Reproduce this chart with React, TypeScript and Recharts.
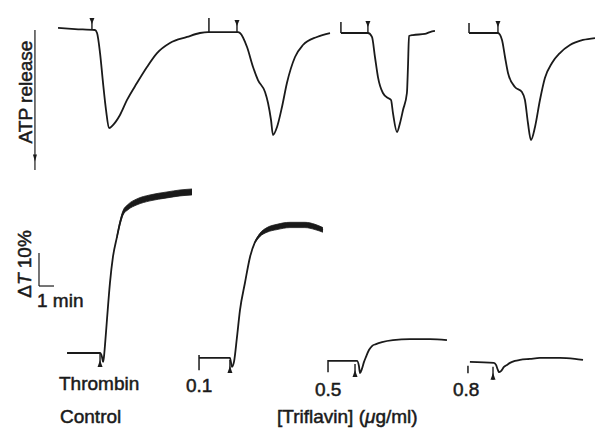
import { ComposedChart, Line, Area, Scatter, XAxis, YAxis, ReferenceLine, ReferenceDot } from 'recharts';

// chart-paper time, minutes (1 min = the scale bar)
const T_DOMAIN: [number, number] = [0, 39.67];

// ATP release (arbitrary units, deflection downwards = release)
const atpControlAnd01: [number, number][] = [
  [3.87, -1.7], [5.0, -0.8], [6.33, 0], [6.47, 2.5], [6.67, 19.2], [6.87, 44.2], [7.07, 66.7],
  [7.27, 81.7], [7.53, 79.2], [8.0, 70.8], [8.47, 58.3], [9.13, 44.2], [9.8, 30.8], [10.47, 19.2],
  [11.33, 10.8], [12.47, 5.8], [13.33, 2.5], [13.87, 1.7], [15.87, 1.7], [16.0, 2.5], [16.47, 14.2],
  [16.87, 30.8], [17.2, 41.7], [17.67, 51.7], [17.87, 60.8], [18.07, 75.0], [18.2, 87.5],
  [18.47, 80.8], [18.8, 64.2], [19.13, 44.2], [19.67, 22.5], [20.2, 12.5], [21.13, 5.8], [22.0, 2.5],
];
const atp05: [number, number][] = [
  [22.73, 2.5], [24.53, 2.5], [24.8, 5.8], [25.0, 22.5], [25.2, 39.2], [25.53, 52.5], [25.87, 56.7],
  [26.07, 58.3], [26.2, 69.2], [26.47, 85.0], [26.67, 77.5], [26.87, 66.7], [27.13, 52.5],
  [27.2, 30.8], [27.27, 5.0], [27.53, 4.2], [28.33, 3.3], [28.67, 1.7], [29.0, 0.8],
];
const atp08: [number, number][] = [
  [31.27, 2.5], [33.2, 2.5], [33.47, 8.3], [33.67, 22.5], [33.87, 35.8], [34.33, 47.5], [34.8, 51.7],
  [35.0, 58.3], [35.2, 77.5], [35.4, 91.7], [35.67, 80.8], [36.0, 58.3], [36.33, 40.0], [36.8, 27.5],
  [37.33, 19.2], [38.0, 12.5], [38.87, 8.3], [39.67, 6.7],
];
const atpThrombinAdds: [number, number][] = [[6.13, 0], [15.8, 1.7], [24.53, 2.5], [33.2, 2.5]];
const atpStartTicks: [number, number, number][] = [[13.93, 1.7, -10], [22.73, 2.5, -6.7], [31.27, 2.5, -5.8]];
const atpAxis: [number, number, number] = [2.33, 0, 116.7];

// aggregation, light transmission change ΔT (%)
const aggControl: [number, number][] = [
  [4.47, 0], [6.67, 0], [6.8, -1.2], [6.87, -2.7], [6.93, -1.2], [7.0, 2.4], [7.13, 10.0],
  [7.33, 21.2], [7.53, 29.1], [7.8, 35.2], [8.0, 39.4], [8.2, 42.4], [8.53, 44.2], [9.13, 45.8],
  [10.0, 47.0], [11.13, 47.9], [12.0, 48.5], [12.8, 48.8],
];
const aggControlNoise: [number, number, number][] = [
  [7.8, 34.9, 35.5], [8.0, 38.9, 39.9], [8.2, 41.8, 43.1], [8.53, 43.4, 45.0], [9.13, 44.9, 46.7],
  [10.0, 46.1, 47.9], [11.13, 47.0, 48.8], [12.0, 47.6, 49.4], [12.8, 47.9, 49.7],
];
const agg01: [number, number][] = [
  [13.27, -1.5], [15.33, -1.5], [15.47, -4.2], [15.6, -2.7], [15.8, 4.8], [16.0, 13.0], [16.33, 21.2],
  [16.67, 29.1], [17.0, 33.6], [17.33, 35.8], [17.8, 37.3], [18.47, 38.2], [19.33, 38.8],
  [20.33, 38.8], [21.0, 38.2], [21.53, 37.3],
];
const agg01Noise: [number, number, number][] = [
  [17.0, 33.4, 33.8], [17.33, 35.3, 36.3], [17.8, 36.6, 38.0], [18.47, 37.4, 39.0],
  [19.33, 38.0, 39.6], [20.33, 38.0, 39.6], [21.0, 37.4, 39.0], [21.53, 36.6, 38.0],
];
const agg05: [number, number][] = [
  [21.87, -2.4], [23.8, -2.4], [23.93, -3.9], [24.0, -6.1], [24.13, -4.8], [24.27, -2.7], [24.4, -1.2],
  [24.6, 0.9], [24.8, 2.1], [25.07, 2.7], [25.47, 3.3], [26.2, 3.9], [27.33, 4.2], [28.67, 4.2], [29.8, 3.9],
];
const agg08: [number, number][] = [
  [31.33, -2.7], [32.93, -3.0], [33.07, -3.6], [33.2, -5.2], [33.27, -5.8], [33.4, -5.5], [33.6, -4.2],
  [33.8, -3.6], [34.0, -3.0], [34.33, -2.4], [34.67, -2.1], [35.33, -1.8], [36.0, -1.5], [37.33, -1.5],
  [38.33, -1.8], [38.87, -2.1],
];
const aggThrombinAdds: [number, number][] = [[6.67, -0.3], [15.33, -2.1], [23.67, -3.3], [32.87, -4.2]];
const aggStartTicks: [number, number, number][] = [[13.27, -0.6, -5.2], [21.87, -2.1, -5.8], [31.2, -3.9, -6.1]];
const scaleBarT = [2.6, 3.6];
const scaleBarV = [20.3, 30.3];

const INK = '#1a1a1a';
const FONT = '"Liberation Sans", Arial, Helvetica, sans-serif';

const pts = (a: [number, number][]) => a.map(([t, v]) => ({ t, v }));
const band = (a: [number, number, number][]) => a.map(([t, lo, hi]) => ({ t, band: [lo, hi] }));

const DownArrowAbove = (p: any) => {
  const { cx, cy } = p;
  return (
    <g>
      <line x1={cx} y1={cy} x2={cx} y2={cy - 12} stroke={INK} strokeWidth={1.4} />
      <path d={`M${cx - 2.5},${cy - 12} L${cx + 2.5},${cy - 12} L${cx},${cy - 6} Z`} fill={INK} />
    </g>
  );
};

const UpArrowBelow = (p: any) => {
  const { cx, cy } = p;
  return (
    <g>
      <line x1={cx} y1={cy} x2={cx} y2={cy + 13} stroke={INK} strokeWidth={1.4} />
      <path d={`M${cx - 2.5},${cy + 13} L${cx + 2.5},${cy + 13} L${cx},${cy + 6} Z`} fill={INK} />
    </g>
  );
};

const AxisHead = (p: any) => {
  const { cx, cy } = p;
  return <path d={`M${cx - 2},${cy - 5} L${cx + 2},${cy - 5} L${cx},${cy + 2} Z`} fill={INK} />;
};

const lineProps = {
  type: 'monotone' as const,
  dataKey: 'v',
  stroke: INK,
  strokeWidth: 1.8,
  dot: false,
  activeDot: false,
  legendType: 'none' as const,
  isAnimationActive: false,
};

const label = (extra: React.CSSProperties): React.CSSProperties => ({
  position: 'absolute',
  fontSize: 19,
  lineHeight: '19px',
  whiteSpace: 'nowrap',
  color: INK,
  WebkitTextStroke: '0.5px ' + INK,
  ...extra,
});

export default function App() {
  return (
    <div style={{ position: 'absolute', left: 0, top: 0, width: 595, height: 430, background: '#fff', fontFamily: FONT, overflow: 'hidden' }}>
      {/* ATP release */}
      <div style={{ position: 'absolute', left: 0, top: 0 }}>
        <ComposedChart width={595} height={174} margin={{ top: 0, right: 0, bottom: 0, left: 0 }}>
          <XAxis type="number" dataKey="t" domain={T_DOMAIN} hide allowDataOverflow />
          <YAxis type="number" dataKey="v" domain={[-25, 120]} reversed hide allowDataOverflow />
          <ReferenceLine segment={[{ x: atpAxis[0], y: atpAxis[1] }, { x: atpAxis[0], y: atpAxis[2] }]} stroke={INK} strokeWidth={1.2} />
          <ReferenceDot x={atpAxis[0]} y={108} shape={AxisHead} />
          {atpStartTicks.map(([t, a, b], i) => (
            <ReferenceLine key={i} segment={[{ x: t, y: a }, { x: t, y: b }]} stroke={INK} strokeWidth={1.5} />
          ))}
          <Line data={pts(atpControlAnd01)} {...lineProps} />
          <Line data={pts(atp05)} {...lineProps} />
          <Line data={pts(atp08)} {...lineProps} />
          <Scatter data={pts(atpThrombinAdds)} dataKey="v" shape={DownArrowAbove} isAnimationActive={false} />
        </ComposedChart>
      </div>

      {/* aggregation */}
      <div style={{ position: 'absolute', left: 0, top: 188 }}>
        <ComposedChart width={595} height={198} margin={{ top: 0, right: 0, bottom: 0, left: 0 }}>
          <XAxis type="number" dataKey="t" domain={T_DOMAIN} hide allowDataOverflow />
          <YAxis type="number" dataKey="v" domain={[-10, 50]} hide allowDataOverflow />
          <ReferenceLine segment={[{ x: scaleBarT[0], y: scaleBarV[0] }, { x: scaleBarT[0], y: scaleBarV[1] }]} stroke={INK} strokeWidth={1.2} />
          <ReferenceLine segment={[{ x: scaleBarT[0], y: scaleBarV[0] }, { x: scaleBarT[1], y: scaleBarV[0] }]} stroke={INK} strokeWidth={1.2} />
          {aggStartTicks.map(([t, a, b], i) => (
            <ReferenceLine key={i} segment={[{ x: t, y: a }, { x: t, y: b }]} stroke={INK} strokeWidth={1.5} />
          ))}
          <Area data={band(aggControlNoise)} type="monotone" dataKey="band" stroke={INK} strokeWidth={0.8} fill={INK} fillOpacity={1} isAnimationActive={false} />
          <Area data={band(agg01Noise)} type="monotone" dataKey="band" stroke={INK} strokeWidth={0.8} fill={INK} fillOpacity={1} isAnimationActive={false} />
          <Line data={pts(aggControl)} {...lineProps} />
          <Line data={pts(agg01)} {...lineProps} />
          <Line data={pts(agg05)} {...lineProps} />
          <Line data={pts(agg08)} {...lineProps} />
          <Scatter data={pts(aggThrombinAdds)} dataKey="v" shape={UpArrowBelow} isAnimationActive={false} />
        </ComposedChart>
      </div>

      <div style={label({ left: 24.5, top: 92, transform: 'translate(-50%,-50%) rotate(-90deg)' })}>ATP release</div>
      <div style={label({ left: 23.5, top: 263.5, transform: 'translate(-50%,-50%) rotate(-90deg)' })}>
        Δ<i>T</i> 10%
      </div>
      <div style={label({ left: 37, top: 291 })}>1 min</div>
      <div style={label({ left: 59, top: 374 })}>Thrombin</div>
      <div style={label({ left: 186, top: 376 })}>0.1</div>
      <div style={label({ left: 315, top: 380 })}>0.5</div>
      <div style={label({ left: 453, top: 380 })}>0.8</div>
      <div style={label({ left: 60, top: 407 })}>Control</div>
      <div style={label({ left: 277, top: 407 })}>
        [Triflavin] (<i>μ</i>g/ml)
      </div>
    </div>
  );
}
